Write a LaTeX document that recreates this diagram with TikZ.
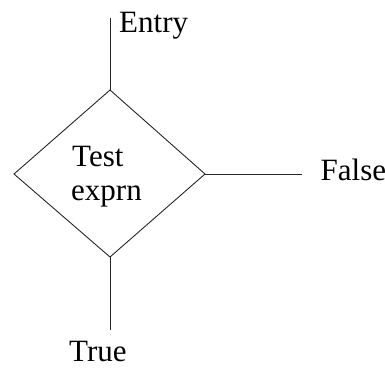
\documentclass[tikz,border=0pt]{standalone}
\usepackage{fontspec}
\setmainfont{Liberation Serif}
\tikzset{
  edge/.style={draw=black!85, line width=0.9pt},
  lbl/.style={anchor=base west, inner sep=0pt, font=\fontsize{31}{34}\selectfont}
}
\begin{document}
\begin{tikzpicture}[x=1pt,y=-1pt]
  \useasboundingbox (0,0) rectangle (385,367);
  % decision corners
  \coordinate (top) at (110,90);
  \coordinate (rgt) at (205,174);
  \coordinate (bot) at (110,257);
  \coordinate (lft) at (14,174);
  % free ends of the branches
  \coordinate (entry) at (110,18);
  \coordinate (fend) at (302,174);
  \coordinate (tend) at (110,330);
  \draw[edge] (top) -- (rgt) -- (bot) -- (lft) -- cycle;
  \draw[edge] (entry) -- (top);
  \draw[edge] (rgt) -- (fend);
  \draw[edge] (bot) -- (tend);
  % labels
  \node[lbl] (lentry) at (119,32) {Entry};
  \node[lbl] (ltest) at (72,166) {Test};
  \node[lbl] (lexpr) at (71,200) {exprn};
  \node[lbl] (lfalse) at (320.5,180) {False};
  \node[lbl] (ltrue) at (69,361.5) {True};
\end{tikzpicture}
\end{document}
